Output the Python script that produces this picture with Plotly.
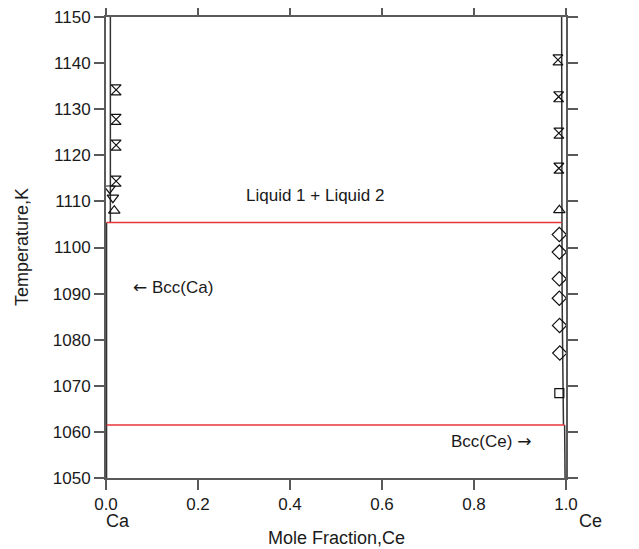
import plotly.graph_objects as go

# ---- data ----
# phase boundaries (mole fraction Ce, temperature K)
liq1_x = [0.0095, 0.0095]
liq1_t = [1150, 1105.4]
bcc_ca_x = [0.0012, 0.0012]
bcc_ca_t = [1105.4, 1050]
liq2_x = [0.9905, 0.9905, 0.9915, 0.993, 0.9945]
liq2_t = [1150, 1105.4, 1090, 1075, 1061.5]
bcc_ce_x = [0.997, 0.9975, 0.998]
bcc_ce_t = [1061.5, 1055, 1050]
monotectic_x = [0.0012, 0.9905]
monotectic_t = [1105.4, 1105.4]
eutectic_x = [0.0012, 0.997]
eutectic_t = [1061.5, 1061.5]

# experimental points
hg_left_x = [0.022, 0.022, 0.022, 0.022]
hg_left_t = [1134.2, 1127.8, 1122.2, 1114.4]
hg_right_x = [0.9825, 0.984, 0.9845, 0.9845]
hg_right_t = [1140.7, 1132.7, 1124.8, 1117.2]
tri_up_x = [0.018, 0.9855]
tri_up_t = [1108.0, 1108.1]
tri_dn_x = [0.008, 0.015]
tri_dn_t = [1112.8, 1110.8]
dia_x = [0.9855, 0.9855, 0.9855, 0.9855, 0.986, 0.9865]
dia_t = [1102.8, 1099.0, 1093.2, 1089.0, 1083.1, 1077.1]
sq_x = [0.9855]
sq_t = [1068.4]

x_ticks = [0, 0.2, 0.4, 0.6, 0.8, 1.0]
y_ticks = list(range(1050, 1151, 10))

FONT = "Liberation Sans, Arial, sans-serif"
LINE = "#333333"
TXT = "#1a1a1a"

fig = go.Figure()

for xs, ts in [(liq1_x, liq1_t), (bcc_ca_x, bcc_ca_t), (liq2_x, liq2_t), (bcc_ce_x, bcc_ce_t)]:
    fig.add_trace(go.Scatter(x=xs, y=ts, mode="lines",
                             line=dict(color=LINE, width=1.5), showlegend=False,
                             hoverinfo="skip"))
for xs, ts in [(monotectic_x, monotectic_t), (eutectic_x, eutectic_t)]:
    fig.add_trace(go.Scatter(x=xs, y=ts, mode="lines",
                             line=dict(color="#e8343a", width=1.5), showlegend=False))

def pts(xs, ts, sym, size=10):
    fig.add_trace(go.Scatter(x=xs, y=ts, mode="markers", showlegend=False,
                             marker=dict(symbol=sym, size=size, color="rgba(0,0,0,0)",
                                         line=dict(color="#111111", width=1.2))))

pts(hg_left_x, hg_left_t, "hourglass")
pts(hg_right_x, hg_right_t, "hourglass")
pts(tri_up_x, tri_up_t, "triangle-up")
pts(tri_dn_x, tri_dn_t, "triangle-down")
pts(dia_x, dia_t, "diamond", 11)
pts(sq_x, sq_t, "square", 9)

axis_common = dict(showline=True, linecolor="#5a5a5a", linewidth=2, mirror="ticks",
                   ticks="outside", ticklen=10, tickwidth=2, tickcolor="#5a5a5a",
                   showgrid=False, zeroline=False, ticklabeloverflow="allow",
                   tickfont=dict(family=FONT, size=17, color=TXT))

fig.update_xaxes(range=[0, 1], tickvals=x_ticks, tickformat=".1f", **axis_common)
fig.update_yaxes(range=[1050, 1150], tickvals=y_ticks, **axis_common)

# page has an 8px body margin; figure sized to fill the 639x549 window
OFF = 8
W, H = 639 - OFF, 549 - OFF
L, T, R, B = 98, 9, 73, 71
pw, ph = W - L - R, H - T - B

def px2paper(px, py):
    return (px - OFF - L) / pw, (H - (py - OFF) - B) / ph

ARW = '<span style="font-family:DejaVu Sans">%s</span>'
ann = [
    dict(x=0.455, y=1111.3, xref="x", yref="y", text="Liquid 1 + Liquid 2",
         showarrow=False, font=dict(family=FONT, size=17, color=TXT)),
    dict(x=0.145, y=1091.4, xref="x", yref="y", text=ARW % "\u2190" + " Bcc(Ca)",
         showarrow=False, font=dict(family=FONT, size=17, color=TXT)),
    dict(x=0.838, y=1058.0, xref="x", yref="y", text="Bcc(Ce) " + ARW % "\u2192",
         showarrow=False, font=dict(family=FONT, size=17, color=TXT)),
]
for txt, px, py, ang in [("Ca", 118, 521, 0), ("Ce", 590, 521, 0),
                         ("Mole Fraction,Ce", 336, 538, 0), ("Temperature,K", 22, 247, -90)]:
    xp, yp = px2paper(px, py)
    ann.append(dict(x=xp, y=yp, xref="paper", yref="paper", text=txt, showarrow=False,
                    xanchor="center", yanchor="middle", textangle=ang,
                    font=dict(family=FONT, size=18, color=TXT)))

fig.update_layout(width=W, height=H, margin=dict(l=L, r=R, t=T, b=B, autoexpand=False),
                  plot_bgcolor="white", paper_bgcolor="white", annotations=ann)

fig.write_html("out.html")
